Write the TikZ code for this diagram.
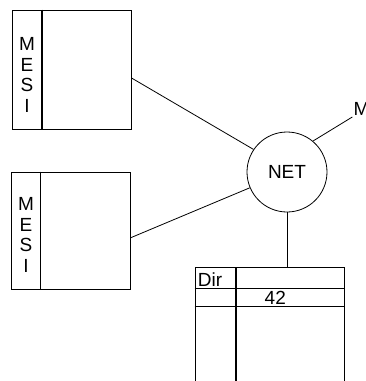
\documentclass[tikz,border=0pt]{standalone}
\usepackage{fontspec}
\setmainfont{Liberation Sans}
\begin{document}
\begin{tikzpicture}[x=1pt, y=-1pt, line width=0.8pt,
    every node/.style={font=\fontsize{19}{20.5}\selectfont},
    cachebox/.style={draw, rectangle, inner sep=0pt, minimum width=119pt},
    netnode/.style={draw, circle, inner sep=0pt, minimum size=80pt}]
    \clip (0,0) rectangle (366,381);
    % two caches with their state strip
    \node[cachebox, minimum height=119pt] (cacheA) at (71.5,69.5) {};
    \draw[line width=1.6pt] ([xshift=30.5pt]cacheA.north west) -- ([xshift=30.5pt]cacheA.south west);
    \node[align=center, inner sep=0pt] (mesiA) at (27,75) {M\\E\\S\\I};
    \node[cachebox, minimum height=117pt] (cacheB) at (70.5,230.5) {};
    \draw[line width=1.6pt] ([xshift=30pt]cacheB.north west) -- ([xshift=30pt]cacheB.south west);
    \node[align=center, inner sep=0pt] (mesiB) at (26,235) {M\\E\\S\\I};
    % interconnect
    \node[netnode] (net) at (287,172) {NET};
    \node[anchor=south west, inner sep=1pt] (mem) at (352.3,117) {M};
    \draw (cacheA.-8) -- (net.146);
    \draw (cacheB.-7) -- (net.203);
    \draw (net.50) -- (mem.south west);
    % directory table
    \node[draw, rectangle, inner sep=0pt, minimum width=149.5pt, minimum height=128pt,
          anchor=north west] (dirtab) at (194.5,267.3) {};
    \draw (net.south) -- (net.south |- dirtab.north);
    \draw[line width=1.2pt] ([xshift=41.5pt]dirtab.north west) -- ([xshift=41.5pt]dirtab.south west);
    \draw ([yshift=-21pt]dirtab.north west) -- ([yshift=-21pt]dirtab.north east);
    \draw ([yshift=-39.4pt]dirtab.north west) -- ([yshift=-39.4pt]dirtab.north east);
    \node[anchor=base west, inner sep=0pt] (dirlbl) at (197.5,286) {Dir};
    \node[anchor=base, inner sep=0pt] (entry) at (275.3,304.3) {42};
\end{tikzpicture}
\end{document}
